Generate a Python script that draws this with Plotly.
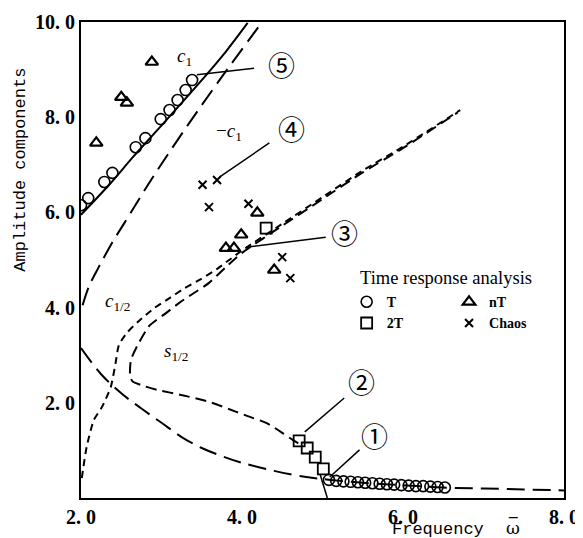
import plotly.graph_objects as go

# ---------------- data ----------------
# c1 (solid)
c1_x = [2.0, 2.35, 2.65, 2.97, 3.47, 3.8, 4.07]
c1_y = [5.95, 6.58, 7.17, 7.77, 8.72, 9.38, 9.98]
# -c1 (long dashed)
mc1_x = [2.02, 2.1, 2.22, 2.4, 2.54, 2.87, 3.26, 3.7, 4.25]
mc1_y = [4.05, 4.45, 4.85, 5.4, 5.78, 6.68, 7.67, 8.73, 10.0]
# lower long dashed branch
low_x = [2.0, 2.25, 2.5, 2.75, 3.0, 3.25, 3.5, 3.75, 4.0, 4.4, 4.8, 5.1, 5.5, 6.0, 6.5, 7.0, 7.5, 8.0]
low_y = [3.15, 2.6, 2.2, 1.88, 1.58, 1.28, 1.05, 0.88, 0.74, 0.57, 0.44, 0.38, 0.32, 0.27, 0.22, 0.2, 0.18, 0.16]
# c1/2 (short dashed)
ch_x = [2.01, 2.07, 2.16, 2.26, 2.37, 2.43, 2.47, 2.57, 2.72, 2.91, 3.10, 3.28, 3.49, 3.68, 3.84, 4.0, 4.5, 5.0, 5.5, 6.0, 6.71]
ch_y = [0.42, 1.07, 1.64, 1.91, 2.33, 2.84, 3.21, 3.47, 3.72, 3.99, 4.2, 4.4, 4.6, 4.8, 5.0, 5.2, 5.76, 6.32, 6.88, 7.38, 8.15]
# s1/2 (dashed)
sh_x = [4.7, 4.63, 4.5, 4.3, 4.07, 3.93, 3.59, 3.26, 2.95, 2.75, 2.64, 2.61, 2.62, 2.70, 2.85, 3.06, 3.22, 3.38, 3.59, 3.8, 4.0, 4.5, 5.0, 5.5, 6.0, 6.68]
sh_y = [1.15, 1.22, 1.37, 1.58, 1.72, 1.81, 2.02, 2.16, 2.27, 2.37, 2.45, 2.56, 2.9, 3.2, 3.62, 3.89, 4.1, 4.28, 4.52, 4.85, 5.15, 5.72, 6.28, 6.84, 7.35, 8.1]
# short solid branch near 1
sb_x = [4.97, 5.06]
sb_y = [0.5, 0.0]

# time response analysis points
T_x = [2.0, 2.09, 2.29, 2.39, 2.68, 2.80, 2.99, 3.10, 3.20, 3.30, 3.38,
       5.08, 5.17, 5.26, 5.35, 5.44, 5.53, 5.62, 5.71, 5.80, 5.89, 5.98, 6.07, 6.16, 6.25, 6.34, 6.43, 6.52]
T_y = [6.15, 6.30, 6.64, 6.83, 7.37, 7.56, 7.96, 8.15, 8.36, 8.57, 8.78,
       0.38, 0.36, 0.35, 0.34, 0.33, 0.32, 0.31, 0.30, 0.29, 0.28, 0.27, 0.26, 0.25, 0.25, 0.24, 0.23, 0.22]
nT_x = [2.88, 2.50, 2.57, 2.19, 4.19, 3.99, 3.80, 3.90, 4.40]
nT_y = [9.16, 8.42, 8.30, 7.46, 5.99, 5.53, 5.25, 5.25, 4.79]
T2_x = [4.30, 4.71, 4.81, 4.91, 5.01]
T2_y = [5.67, 1.20, 1.05, 0.86, 0.61]
ch_pts_x = [3.51, 3.69, 3.59, 4.08, 4.50, 4.60]
ch_pts_y = [6.58, 6.68, 6.11, 6.18, 5.06, 4.62]

# circled number labels and leader lines
num_text = ["①", "②", "③", "④", "⑤"]
num_x = [5.65, 5.49, 5.27, 4.61, 4.49]
num_y = [1.32, 2.44, 5.57, 7.77, 9.10]
lead_x0 = [5.09, 4.78, 4.05, 3.72, 3.44]
lead_y0 = [0.44, 1.39, 5.27, 6.74, 8.89]
lead_x1 = [5.46, 5.27, 5.04, 4.34, 4.15]
lead_y1 = [1.01, 2.10, 5.48, 7.46, 9.03]

curve_text = ["<i>c</i><sub>1</sub>", "−<i>c</i><sub>1</sub>", "<i>c</i><sub>1/2</sub>", "<i>s</i><sub>1/2</sub>"]
curve_tx = [3.28, 3.84, 2.45, 3.18]
curve_ty = [9.27, 7.69, 4.12, 3.07]

x_ticks = [2, 4, 6, 8]
x_ticktext = ["2. 0", "4. 0", "6. 0", "8. 0"]
y_ticks = [2, 4, 6, 8, 10]
y_ticktext = ["2. 0", "4. 0", "6. 0", "8. 0", "10. 0"]

# ---------------- figure ----------------
fig = go.Figure()
K = "black"
fig.add_trace(go.Scatter(x=c1_x, y=c1_y, mode="lines", line=dict(color=K, width=2, shape="spline"), showlegend=False))
fig.add_trace(go.Scatter(x=mc1_x, y=mc1_y, mode="lines", line=dict(color=K, width=2, dash="18px,8px", shape="spline"), showlegend=False))
fig.add_trace(go.Scatter(x=low_x, y=low_y, mode="lines", line=dict(color=K, width=2, dash="18px,8px", shape="spline"), showlegend=False))
fig.add_trace(go.Scatter(x=ch_x, y=ch_y, mode="lines", line=dict(color=K, width=2, dash="7px,5px", shape="spline", smoothing=0.6), showlegend=False))
fig.add_trace(go.Scatter(x=sh_x, y=sh_y, mode="lines", line=dict(color=K, width=2, dash="11px,6px", shape="spline", smoothing=0.6), showlegend=False))
fig.add_trace(go.Scatter(x=sb_x, y=sb_y, mode="lines", line=dict(color=K, width=1.5), showlegend=False))

for x0, y0, x1, y1 in zip(lead_x0, lead_y0, lead_x1, lead_y1):
    fig.add_shape(type="line", x0=x0, y0=y0, x1=x1, y1=y1, xref="x", yref="y", line=dict(color=K, width=1.5))

fig.add_trace(go.Scatter(x=T_x, y=T_y, mode="markers", name="T",
                         marker=dict(symbol="circle-open", size=11, color=K, line=dict(width=1.6)), legend="legend"))
fig.add_trace(go.Scatter(x=T2_x, y=T2_y, mode="markers", name="2T",
                         marker=dict(symbol="square-open", size=11, color=K, line=dict(width=1.8)), legend="legend"))
fig.add_trace(go.Scatter(x=nT_x, y=nT_y, mode="markers", name="nT",
                         marker=dict(symbol="triangle-up-open", size=11, color=K, line=dict(width=2.2)), legend="legend2"))
fig.add_trace(go.Scatter(x=ch_pts_x, y=ch_pts_y, mode="markers", name="Chaos",
                         marker=dict(symbol="x-thin-open", size=8, color=K, line=dict(width=2)), legend="legend2"))

for t, x, y in zip(num_text, num_x, num_y):
    fig.add_annotation(x=x, y=y, text=t, showarrow=False, font=dict(family="Noto Sans CJK JP", size=27, color=K))
for t, x, y in zip(curve_text, curve_tx, curve_ty):
    fig.add_annotation(x=x, y=y, text=t, showarrow=False, font=dict(family="Liberation Serif", size=19, color=K))

fig.add_annotation(xref="paper", yref="paper", x=-0.127, y=0.689, xanchor="center", yanchor="middle",
                   text="Amplitude components", textangle=-90,
                   showarrow=False, font=dict(family="Liberation Mono", size=17, color=K))
fig.add_annotation(xref="paper", yref="paper", x=0.740, y=-0.066, xanchor="center", yanchor="middle",
                   text="Frequency", showarrow=False,
                   font=dict(family="Liberation Mono", size=17, color=K))
fig.add_annotation(xref="paper", yref="paper", x=0.894, y=-0.064, xanchor="center", yanchor="middle",
                   text="ω", showarrow=False,
                   font=dict(family="DejaVu Serif", size=17, color=K))
fig.add_annotation(xref="paper", yref="paper", x=0.894, y=-0.054, xanchor="center", yanchor="middle",
                   text="‾", showarrow=False,
                   font=dict(family="DejaVu Sans", size=17, color=K))
fig.add_annotation(xref="paper", yref="paper", x=0.573, y=0.462, xanchor="left", yanchor="middle",
                   text="Time response analysis", showarrow=False,
                   font=dict(family="Liberation Serif", size=18.5, color=K))

axis_common = dict(showgrid=False, zeroline=False, showline=True, linecolor=K, linewidth=2, mirror=True,
                   automargin=False, ticks="",
                   tickfont=dict(family="Liberation Serif", size=20, color=K, weight="bold"))
fig.update_xaxes(range=[2, 8], tickvals=x_ticks, ticktext=x_ticktext, **axis_common)
fig.update_yaxes(range=[0, 10], tickvals=y_ticks, ticktext=y_ticktext, **axis_common)

# page body has an 8px margin, so the figure is sized/offset to land the plot box where it belongs
fig.update_layout(
    width=575, height=530,
    margin=dict(l=73, r=19, t=14, b=40),
    plot_bgcolor="white", paper_bgcolor="white",
    legend=dict(x=0.55, y=0.445, xanchor="left", yanchor="top", bgcolor="rgba(0,0,0,0)",
                font=dict(family="Liberation Serif", size=14, color=K, weight="bold"),
                itemwidth=30, tracegroupgap=0),
    legend2=dict(x=0.762, y=0.445, xanchor="left", yanchor="top", bgcolor="rgba(0,0,0,0)",
                 font=dict(family="Liberation Serif", size=14, color=K, weight="bold"),
                 itemwidth=30, tracegroupgap=0),
)

fig.write_html("out.html")
